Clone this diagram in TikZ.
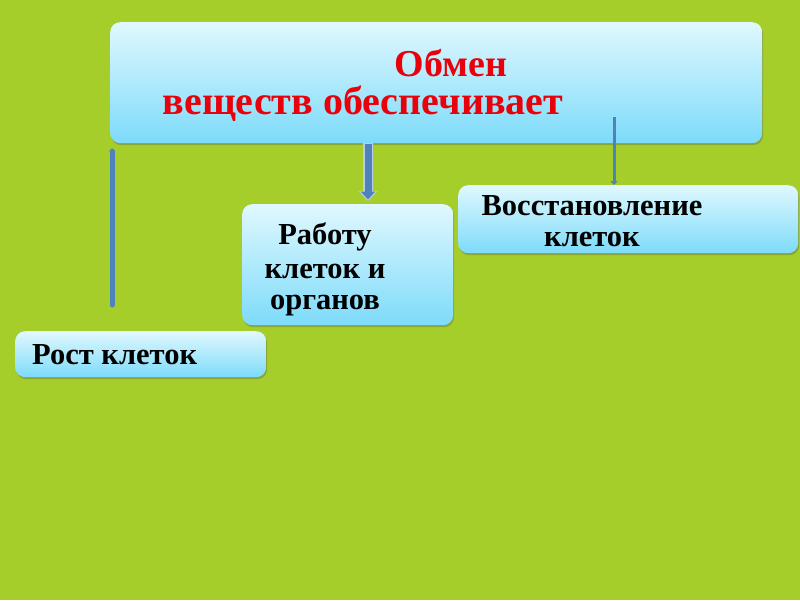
\documentclass[tikz,border=0pt]{standalone}
\usepackage{fontspec}
\setmainfont{Liberation Serif}
\usetikzlibrary{arrows.meta,shadows}
\definecolor{bg}{HTML}{A6CE2A}
\definecolor{boxtop}{HTML}{E0F8FE}
\definecolor{boxbot}{HTML}{7DDBFA}
\definecolor{arrc}{HTML}{4F81BD}
\definecolor{txtred}{HTML}{E8000B}
\begin{document}
\begin{tikzpicture}[x=1pt,y=-1pt,
  box/.style={rounded corners=10pt, top color=boxtop, bottom color=boxbot, draw=none,
    inner sep=0pt, anchor=north west,
    drop shadow={shadow xshift=1pt,shadow yshift=-2pt,opacity=0.3,fill=black!70}},
  redtxt/.style={font=\bfseries\fontsize{38}{44}\selectfont, text=txtred, inner sep=0pt, anchor=base},
  blktxt/.style={font=\bfseries\fontsize{30.5}{36}\selectfont, text=black, inner sep=0pt, anchor=base},
  conn/.style={draw=arrc, line width=4pt}
]
\fill[bg] (0,0) rectangle (800,600);
\useasboundingbox (0,0) rectangle (800,600);

% boxes
\node[box, minimum width=652pt, minimum height=121pt] (top) at (110,22) {};
\node[box, minimum width=211pt, minimum height=121pt] (rab) at (242,204) {};
\node[box, minimum width=340pt, minimum height=68pt] (vos) at (458,185) {};
\node[box, minimum width=251pt, minimum height=46pt] (rost) at (15,331) {};

% texts
\node[redtxt] (t1) at (451,76) {Обмен};
\node[redtxt, font=\bfseries\fontsize{40}{44}\selectfont] (t2) at (363,114) {веществ обеспечивает};
\node[blktxt] (r1) at (325,244) {Работу};
\node[blktxt] (r2) at (325,278) {клеток и};
\node[blktxt] (r3) at (325,309) {органов};
\node[blktxt] (v1) at (592,215) {Восстановление};
\node[blktxt] (v2) at (592,246) {клеток};
\node[blktxt, anchor=base west] (ro) at (32,364) {Рост клеток};

% connectors
\draw[conn, line width=5pt, line cap=round, -{Triangle[length=3pt,width=6pt]}, shorten <=26pt, shorten >=5pt]
  (rost.north -| 112,0) -- (top.south -| 112,0);
\draw[draw=white!60!arrc, line width=10pt, -{Triangle[length=10pt,width=18pt]}, shorten >=3pt]
  (top.south -| 368,0) -- (rab.north -| 368,0);
\draw[conn, line width=7pt, -{Triangle[length=8pt,width=14pt]}, shorten >=4.5pt, shorten <=1pt]
  (top.south -| 368,0) -- (rab.north -| 368,0);
\draw[conn, line width=3pt, -{Triangle[length=4pt,width=7pt]}, shorten <=-26pt]
  (top.south -| 614,0) -- (vos.north -| 614,0);
\end{tikzpicture}
\end{document}
